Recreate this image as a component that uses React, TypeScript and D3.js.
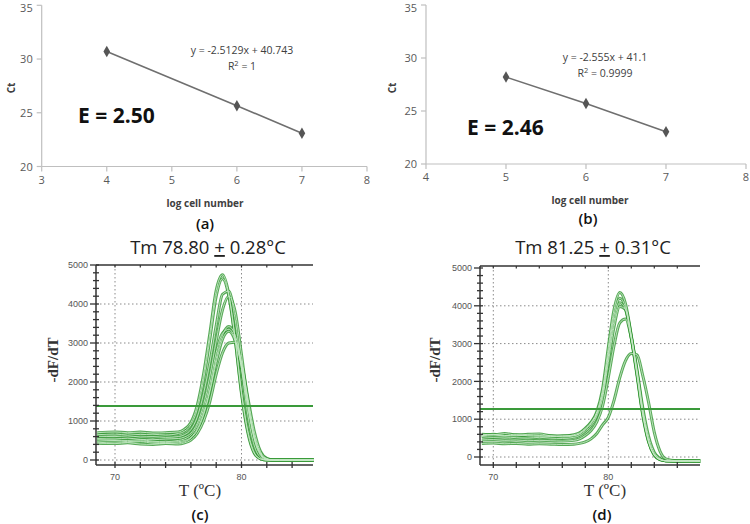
import React from "react";
import * as d3 from "d3";

// ---------- Panel (a) / (b) data ----------
const logCellsA = [4, 6, 7];
const ctA = [30.7, 25.65, 23.1];
const errA = [0.1, 0.25, 0.1];
const logCellsB = [5, 6, 7];
const ctB = [28.2, 25.7, 23.05];
const errB = [0.1, 0.1, 0.1];
const yTicksTop = [20, 25, 30, 35];
const xTicksA = [3, 4, 5, 6, 7, 8];
const xTicksB = [4, 5, 6, 7, 8];

// ---------- Panel (c) melt curves ----------
const tempC = [68.6, 70, 71, 72, 73, 74, 75, 75.5, 76, 76.5, 77, 77.5, 78, 78.5, 79, 79.5, 80, 80.5, 81, 81.5, 82, 82.5, 83, 84, 85.7];
const meltC = [
  [700, 720, 700, 715, 690, 700, 720, 790, 960, 1400, 2200, 3250, 4350, 4750, 4250, 3100, 1700, 700, 180, 30, 0, 0, 0, 0, 0],
  [660, 640, 670, 650, 660, 640, 680, 740, 900, 1300, 2050, 3100, 4200, 4650, 4200, 3100, 1750, 750, 200, 30, 0, 0, 0, 0, 0],
  [610, 600, 620, 590, 600, 580, 600, 650, 780, 1100, 1700, 2500, 3450, 4250, 4330, 3600, 2350, 1150, 380, 70, 0, 0, 0, 0, 0],
  [550, 540, 560, 530, 520, 540, 550, 590, 690, 940, 1420, 2150, 3050, 3850, 4200, 3800, 2700, 1500, 550, 120, 10, 0, 0, 0, 0],
  [480, 500, 470, 490, 460, 450, 470, 500, 580, 800, 1200, 1800, 2600, 3200, 3420, 3200, 2500, 1500, 650, 180, 30, 0, 0, 0, 0],
  [440, 460, 450, 470, 430, 420, 440, 470, 560, 760, 1150, 1750, 2500, 3100, 3300, 3050, 2350, 1350, 550, 150, 20, 0, 0, 0, 0],
  [430, 420, 440, 410, 400, 420, 410, 440, 510, 680, 1000, 1500, 2200, 2750, 3000, 3020, 2500, 1600, 750, 220, 40, 0, 0, 0, 0],
  [520, 510, 500, 520, 480, 470, 500, 540, 640, 880, 1300, 1950, 2750, 3250, 3350, 3100, 2400, 1400, 600, 160, 20, 0, 0, 0, 0],
];
const thresholdC = 1385;

// ---------- Panel (d) melt curves ----------
const tempD = [69, 70, 71, 72, 73, 74, 75, 76, 77, 77.5, 78, 78.5, 79, 79.5, 80, 80.5, 81, 81.5, 82, 82.5, 83, 83.5, 84, 84.5, 85, 86, 87, 88];
const meltD = [
  [600, 590, 620, 580, 600, 610, 560, 550, 590, 640, 760, 920, 1200, 1800, 2900, 3900, 4350, 4050, 3200, 2200, 1150, 420, 60, -70, -100, -110, -100, -110],
  [570, 580, 560, 590, 560, 550, 560, 530, 560, 610, 720, 880, 1150, 1700, 2750, 3750, 4200, 3950, 3150, 2150, 1100, 400, 50, -70, -100, -110, -100, -110],
  [560, 600, 570, 560, 580, 570, 540, 560, 570, 620, 740, 900, 1150, 1650, 2650, 3600, 4080, 3900, 3150, 2200, 1150, 430, 60, -60, -100, -100, -110, -100],
  [540, 520, 530, 510, 500, 520, 500, 490, 520, 570, 680, 830, 1080, 1550, 2500, 3450, 3980, 3900, 3200, 2250, 1200, 450, 70, -60, -100, -110, -100, -110],
  [450, 460, 440, 450, 430, 440, 430, 420, 440, 480, 570, 700, 930, 1350, 2100, 2950, 3550, 3650, 3150, 2300, 1300, 550, 120, -40, -100, -110, -100, -110],
  [360, 370, 350, 360, 340, 350, 340, 330, 340, 360, 400, 480, 620, 850, 1050, 1500, 2100, 2550, 2740, 2700, 2150, 1450, 650, 150, -50, -100, -110, -100],
];
const thresholdD = 1270;
const dfTicks = [0, 1000, 2000, 3000, 4000, 5000];
const tempLabelTicks = [70, 80];

const GREY_TXT = "#595959";
const SANS = "'Open Sans', 'Liberation Sans', sans-serif";
const SERIF = "'Liberation Serif', 'DejaVu Serif', serif";

type StdProps = {
  xs: number[]; ys: number[]; errs: number[]; xTicks: number[];
  xDomain: [number, number]; xRange: [number, number];
  yRange: [number, number];
  eq: string; r2: string; eqX: number; eqY: number;
  eLabel: string; eX: number; eY: number;
  ctX: number; xTitleX: number; xTitleY: number; letter: string; letterX: number; letterY: number;
};

function StdCurve(p: StdProps) {
  const x = d3.scaleLinear().domain(p.xDomain).range(p.xRange);
  const y = d3.scaleLinear().domain([20, 35]).range(p.yRange);
  const line = d3.line<number>().x((_, i) => x(p.xs[i])).y((d) => y(d));
  const diamond = d3.symbol().type(d3.symbolDiamond).size(38)();
  const x0 = p.xRange[0];
  const yb = p.yRange[0];
  return (
    <g>
      <line x1={x0} x2={x0} y1={y(35)} y2={yb} stroke="#bfbfbf" strokeWidth={1.2} />
      <line x1={x0} x2={p.xRange[1]} y1={yb} y2={yb} stroke="#bfbfbf" strokeWidth={1.2} />
      {yTicksTop.map((t) => (
        <g key={"y" + t}>
          <line x1={x0 - 5} x2={x0} y1={y(t)} y2={y(t)} stroke="#bfbfbf" strokeWidth={1.2} />
          <text x={x0 - 9} y={Math.max(y(t) + 4, 12)} textAnchor="end" fontFamily={SANS} fontSize={11} fill={GREY_TXT}>{t}</text>
        </g>
      ))}
      {p.xTicks.map((t) => (
        <g key={"x" + t}>
          <line x1={x(t)} x2={x(t)} y1={yb} y2={yb + 5} stroke="#bfbfbf" strokeWidth={1.2} />
          <text x={x(t)} y={yb + 17} textAnchor="middle" fontFamily={SANS} fontSize={11} fill={GREY_TXT}>{t}</text>
        </g>
      ))}
      <path d={line(p.ys) || ""} fill="none" stroke="#6f6f6f" strokeWidth={1.6} />
      {p.ys.map((v, i) => (
        <g key={"m" + i}>
          <line x1={x(p.xs[i])} x2={x(p.xs[i])} y1={y(v + p.errs[i])} y2={y(v - p.errs[i])} stroke="#555" strokeWidth={1} />
          <path d={diamond || ""} transform={`translate(${x(p.xs[i])},${y(v)})`} fill="#555" />
        </g>
      ))}
      <text x={p.eqX} y={p.eqY} textAnchor="middle" fontFamily={SANS} fontSize={10.5} fill="#404040">{p.eq}</text>
      <text x={p.eqX} y={p.eqY + 16} textAnchor="middle" fontFamily={SANS} fontSize={10.5} fill="#404040">
        R<tspan dy={-4} fontSize={7.5}>2</tspan><tspan dy={4}>{" = " + p.r2}</tspan>
      </text>
      <text x={p.eX} y={p.eY} fontFamily={SANS} fontWeight={700} fontSize={21} fill="#111">{p.eLabel}</text>
      <text transform={`translate(${p.ctX},88) rotate(-90)`} textAnchor="middle" fontFamily={SANS} fontWeight={700} fontSize={10} fill="#404040">Ct</text>
      <text x={p.xTitleX} y={p.xTitleY} textAnchor="middle" fontFamily={SANS} fontWeight={700} fontSize={10} fill="#404040">log cell number</text>
      <text x={p.letterX} y={p.letterY} textAnchor="middle" fontFamily={SANS} fontWeight={600} fontSize={15} fill="#111">{p.letter}</text>
    </g>
  );
}

type MeltProps = {
  temps: number[]; curves: number[][]; threshold: number;
  frameL: number; frameR: number; frameT: number; frameB: number;
  x70: number; x80: number; y0: number; y5000: number;
  tMin: number; tMax: number;
  titleA: string; titleB: string; titleX: number;
  yLabelX: number; xLabelX: number; letter: string; letterX: number;
};

function Melt(p: MeltProps) {
  const x = d3.scaleLinear().domain([70, 80]).range([p.x70, p.x80]);
  const y = d3.scaleLinear().domain([0, 5000]).range([p.y0, p.y5000]);
  const line = d3.line<number>().x((_, i) => x(p.temps[i])).y((d) => y(d)).curve(d3.curveMonotoneX);
  const minorY = d3.range(0, 5001, 200);
  const minorX = d3.range(70, p.tMax, 2);
  const dash = "1.5,2.5";
  return (
    <g>
      {dfTicks.filter((t) => t < 5000).map((t) => (
        <line key={"g" + t} x1={p.frameL} x2={p.frameR} y1={y(t)} y2={y(t)} stroke="#8a8a8a" strokeWidth={1} strokeDasharray={dash} />
      ))}
      {tempLabelTicks.map((t) => (
        <line key={"gv" + t} x1={x(t)} x2={x(t)} y1={p.frameT} y2={p.frameB} stroke="#8a8a8a" strokeWidth={1} strokeDasharray={dash} />
      ))}
      {p.curves.map((c, i) => (
        <path key={"o" + i} d={line(c) || ""} fill="none" stroke="#3a9a3a" strokeOpacity={0.85} strokeWidth={3} />
      ))}
      {p.curves.map((c, i) => (
        <path key={"i" + i} d={line(c) || ""} fill="none" stroke="#c4e8c4" strokeOpacity={0.9} strokeWidth={1} />
      ))}
      <line x1={p.frameL} x2={p.frameR} y1={y(p.threshold)} y2={y(p.threshold)} stroke="#3a9a3a" strokeWidth={2} />
      <line x1={p.frameL} x2={p.frameL} y1={p.frameT} y2={p.frameB} stroke="#333" strokeWidth={1.5} />
      <line x1={p.frameL} x2={p.frameR} y1={p.frameB} y2={p.frameB} stroke="#333" strokeWidth={1.5} />
      <line x1={p.frameL} x2={p.frameR} y1={p.frameT} y2={p.frameT} stroke="#333" strokeWidth={1.5} />
      {minorY.map((t) => (
        <line key={"my" + t} x1={p.frameL - (t % 1000 === 0 ? 6 : 3)} x2={p.frameL + 3} y1={y(t)} y2={y(t)} stroke="#333" strokeWidth={1.3} />
      ))}
      {minorX.map((t) => (
        <g key={"mx" + t}>
          <line x1={x(t)} x2={x(t)} y1={p.frameB - 3} y2={p.frameB + 3} stroke="#333" strokeWidth={1.3} />
          <line x1={x(t)} x2={x(t)} y1={p.frameT} y2={p.frameT + 2.5} stroke="#333" strokeWidth={1.2} />
        </g>
      ))}
      {dfTicks.map((t) => (
        <text key={"ty" + t} x={p.frameL - 8} y={y(t)} dy="0.35em" textAnchor="end" fontFamily="'Liberation Sans', sans-serif" fontSize={9} fill="#555">{t}</text>
      ))}
      {tempLabelTicks.map((t) => (
        <text key={"tx" + t} x={x(t)} y={p.frameB + 15} textAnchor="middle" fontFamily="'Liberation Sans', sans-serif" fontSize={9} fill="#555">{t}</text>
      ))}
      <text x={p.titleX} y={254} textAnchor="middle" fontFamily={SANS} fontSize={18.5} fill="#222">
        {p.titleA}<tspan textDecoration="underline">+</tspan>{p.titleB}
      </text>
      <text transform={`translate(${p.yLabelX},360) rotate(-90)`} textAnchor="middle" fontFamily={SERIF} fontWeight={700} fontSize={15} fill="#333">-dF/dT</text>
      <text x={p.xLabelX} y={496} textAnchor="middle" fontFamily={SERIF} fontSize={17} fill="#333">T (ºC)</text>
      <text x={p.letterX} y={520} textAnchor="middle" fontFamily={SANS} fontWeight={600} fontSize={15} fill="#111">{p.letter}</text>
    </g>
  );
}

export default function App() {
  return (
    <svg width={750} height={524} style={{ position: "absolute", left: 0, top: 0, background: "#fff" }}>
      <rect width={750} height={524} fill="#fff" />
      <StdCurve xs={logCellsA} ys={ctA} errs={errA} xTicks={xTicksA} xDomain={[3, 8]} xRange={[41.7, 367]} yRange={[166.5, 5.3]}
        eq="y = -2.5129x + 40.743" r2="1" eqX={242} eqY={54} eLabel="E = 2.50" eX={78} eY={123}
        ctX={15} xTitleX={205} xTitleY={207} letter="(a)" letterX={205} letterY={229} />
      <StdCurve xs={logCellsB} ys={ctB} errs={errB} xTicks={xTicksB} xDomain={[4, 8]} xRange={[426, 746]} yRange={[164, 5]}
        eq="y = -2.555x + 41.1" r2="0.9999" eqX={605} eqY={61} eLabel="E = 2.46" eX={467} eY={135}
        ctX={396} xTitleX={590} xTitleY={204} letter="(b)" letterX={588} letterY={224} />
      <Melt temps={tempC} curves={meltC} threshold={thresholdC} frameL={96} frameR={313} frameT={265} frameB={465}
        x70={115} x80={241.5} y0={460} y5000={265} tMin={68.6} tMax={85.7}
        titleA="Tm 78.80 " titleB=" 0.28°C" titleX={208} yLabelX={58} xLabelX={200} letter="(c)" letterX={200} />
      <Melt temps={tempD} curves={meltD} threshold={thresholdD} frameL={480} frameR={700} frameT={266} frameB={465}
        x70={493.3} x80={608.3} y0={457} y5000={268} tMin={69} tMax={88}
        titleA="Tm 81.25 " titleB=" 0.31°C" titleX={593} yLabelX={440} xLabelX={605} letter="(d)" letterX={602} />
    </svg>
  );
}
